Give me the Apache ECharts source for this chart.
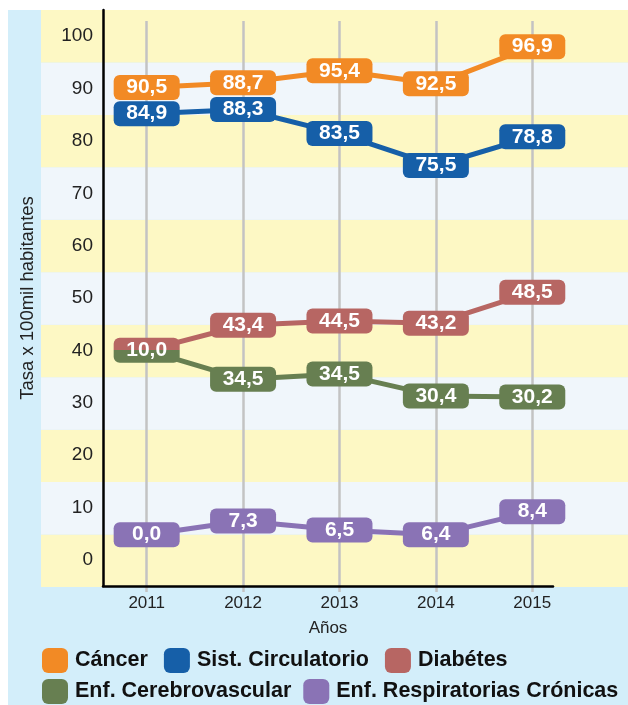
<!DOCTYPE html>
<html>
<head>
<meta charset="utf-8">
<script src="https://cdn.jsdelivr.net/npm/echarts@6/dist/echarts.min.js"></script>
<style>
  html, body { margin: 0; padding: 0; background: #fff; }
  #main { width: 628px; height: 705px; }
</style>
</head>
<body>
<div id="main"></div>
<script>
const years = [2011, 2012, 2013, 2014, 2015];
const yTicks = [0, 10, 20, 30, 40, 50, 60, 70, 80, 90, 100];

// where each point sits on the drawing
const cancer = [90.2, 91.1, 93.4, 90.9, 98.0];
const circulatorio = [85.2, 86.0, 81.4, 75.3, 80.8];
const diabetes = [40.0, 44.8, 45.6, 45.2, 51.1];
const cerebro = [40.0, 34.5, 35.5, 31.3, 31.1];
const respiratorias = [4.8, 7.4, 5.7, 4.8, 9.2];

// the values printed in the boxes
const cancerLabels = ['90,5', '88,7', '95,4', '92,5', '96,9'];
const circulatorioLabels = ['84,9', '88,3', '83,5', '75,5', '78,8'];
const diabetesLabels = ['10,0', '43,4', '44,5', '43,2', '48,5'];
const cerebroLabels = ['10,0', '34,5', '34,5', '30,4', '30,2'];
const respiratoriasLabels = ['0,0', '7,3', '6,5', '6,4', '8,4'];

const FONT = 'Liberation Sans';
const C_ORANGE = '#f28a25';
const C_BLUE = '#165fa8';
const C_RED = '#b76663';
const C_GREEN = '#677f51';
const C_PURPLE = '#8a73b5';

const xMin = 2010.547, xMax = 2015.215;

const chart = echarts.init(document.getElementById('main'));

function makeSeries(name, color, vals, labels) {
  return {
    name: name,
    type: 'line',
    xAxisIndex: 1,
    yAxisIndex: 1,
    symbol: 'circle',
    symbolSize: 1,
    showSymbol: true,
    color: color,
    lineStyle: { width: 5, color: color },
    itemStyle: { color: color },
    label: {
      show: true,
      position: 'inside',
      formatter: p => labels[p.dataIndex],
      color: '#fff',
      fontFamily: FONT,
      fontWeight: 'bold',
      fontSize: 21,
      lineHeight: 21,
      width: 66,
      align: 'center',
      padding: [2, 0],
      borderRadius: 6,
      backgroundColor: color
    },
    data: years.map((y, i) => [y, vals[i]])
  };
}

const sDiab = makeSeries('Diabétes', C_RED, diabetes, diabetesLabels);
const sCere = makeSeries('Enf. Cerebrovascular', C_GREEN, cerebro, cerebroLabels);
// 2011: both lines start in the same box, half red half green
sDiab.data[0] = { value: sDiab.data[0], label: { show: false } };
sCere.data[0] = {
  value: sCere.data[0],
  label: {
    backgroundColor: {
      type: 'linear', x: 0, y: 0, x2: 0, y2: 1,
      colorStops: [
        { offset: 0, color: C_RED }, { offset: 0.5, color: C_RED },
        { offset: 0.5, color: C_GREEN }, { offset: 1, color: C_GREEN }
      ]
    }
  }
};

const legendText = { fontFamily: FONT, fontWeight: 'bold', fontSize: 21.5, color: '#111', padding: [0, 0, 0, 2] };

var option = {
  backgroundColor: '#fff',
  animation: false,
  graphic: [{
    type: 'rect',
    left: 8, top: 10, z: -10,
    shape: { width: 620, height: 695 },
    style: { fill: '#d3eefa' }
  }],
  grid: [
    { left: 41, right: 0, top: 10, bottom: 118 },   // bands
    { left: 103, right: 75, top: 10, bottom: 119 }, // data
    { left: 103, right: 75, top: 21, bottom: 113 }  // vertical lines
  ],
  xAxis: [
    { gridIndex: 0, type: 'value', show: false, min: 0, max: 1 },
    {
      gridIndex: 1, type: 'value', min: xMin, max: xMax,
      axisLine: { onZero: false, lineStyle: { color: '#000', width: 2.5 } },
      axisTick: { show: false },
      splitLine: { show: false },
      axisLabel: {
        customValues: years,
        formatter: v => String(v),
        color: '#222', fontFamily: FONT, fontSize: 17, margin: 9
      },
      name: 'Años',
      nameLocation: 'middle',
      nameGap: 34,
      nameTextStyle: { color: '#222', fontFamily: FONT, fontSize: 17 }
    },
    {
      gridIndex: 2, type: 'value', min: xMin, max: xMax,
      axisLine: { show: false },
      axisLabel: { show: false },
      axisTick: { show: false, customValues: years },
      splitLine: { show: true, lineStyle: { color: '#c3c3c3', width: 2.5 } }
    }
  ],
  yAxis: [
    {
      gridIndex: 0, type: 'value', min: 0, max: 11, interval: 1,
      axisLine: { show: false }, axisTick: { show: false },
      axisLabel: { show: false }, splitLine: { show: false },
      splitArea: { show: true, areaStyle: { color: ['#fdf8c4', '#f0f6fb'] } }
    },
    {
      gridIndex: 1, type: 'value', min: -5, max: 105,
      axisLine: { show: true, lineStyle: { color: '#000', width: 2.5 } },
      axisTick: { show: false },
      splitLine: { show: false },
      axisLabel: {
        customValues: yTicks,
        color: '#222', fontFamily: FONT, fontSize: 19, margin: 10
      },
      name: 'Tasa x 100mil habitantes',
      nameLocation: 'middle',
      nameRotate: 90,
      nameGap: 66,
      nameTextStyle: { color: '#222', fontFamily: FONT, fontSize: 18.5 }
    },
    {
      gridIndex: 2, type: 'value', show: true, min: 0, max: 1,
      axisLine: { show: false }, axisTick: { show: false },
      axisLabel: { show: false }, splitLine: { show: false }
    }
  ],
  legend: [
    {
      data: ['Cáncer', 'Sist. Circulatorio', 'Diabétes'],
      left: 42, top: 648, padding: 0,
      icon: 'roundRect', itemWidth: 26, itemHeight: 25, itemGap: 16,
      textStyle: legendText
    },
    {
      data: ['Enf. Cerebrovascular', 'Enf. Respiratorias Crónicas'],
      left: 42, top: 679, padding: 0,
      icon: 'roundRect', itemWidth: 26, itemHeight: 25, itemGap: 12,
      textStyle: legendText
    }
  ],
  series: [
    makeSeries('Enf. Respiratorias Crónicas', C_PURPLE, respiratorias, respiratoriasLabels),
    sDiab,
    sCere,
    makeSeries('Sist. Circulatorio', C_BLUE, circulatorio, circulatorioLabels),
    makeSeries('Cáncer', C_ORANGE, cancer, cancerLabels)
  ]
};

chart.setOption(option);
</script>
</body>
</html>
